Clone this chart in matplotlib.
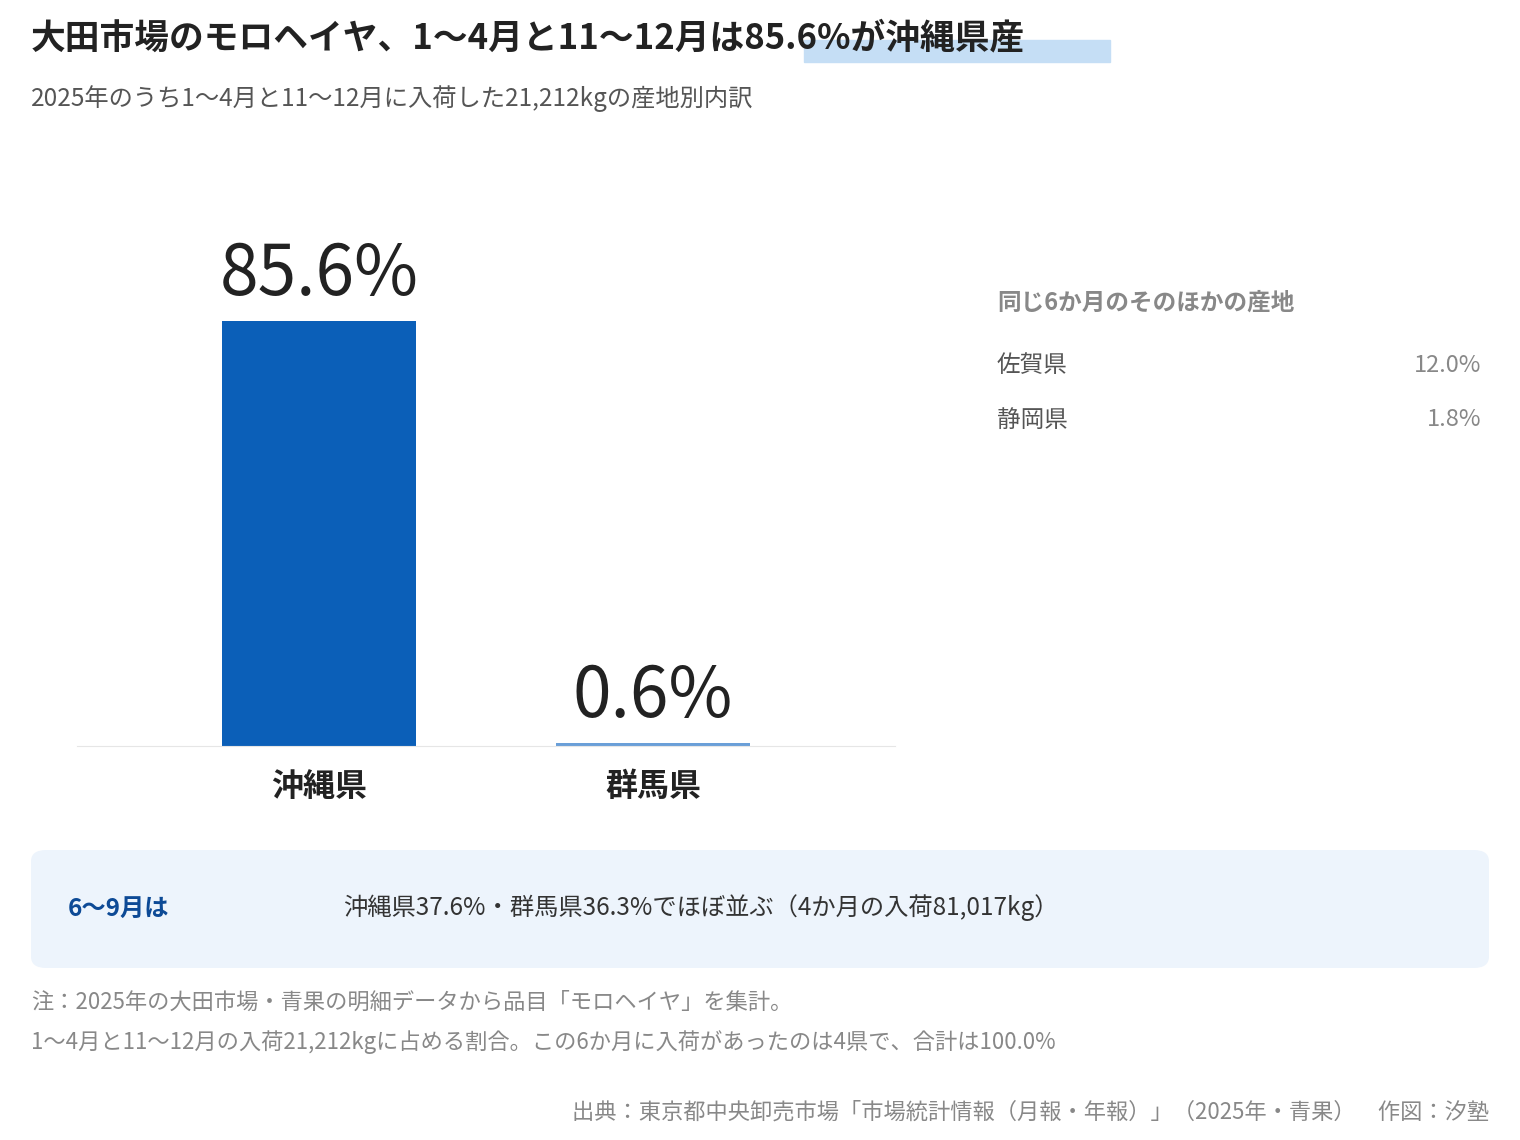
import matplotlib
matplotlib.use("Agg")
import matplotlib.pyplot as plt
from matplotlib.patches import FancyBboxPatch, Rectangle

plt.rcParams['font.family'] = ['Noto Sans CJK JP', 'DejaVu Sans']

categories = ["沖縄県", "群馬県"]
values = [85.6, 0.6]
bar_colors = ["#0b5fb8", "#6a9fd8"]
others = ["佐賀県", "静岡県"]
other_values = [12.0, 1.8]

W, H = 1520, 1140
fig = plt.figure(figsize=(15.2, 11.4), dpi=100)

def fx(x): return x / W
def fy(y): return 1 - y / H

# title highlight
fig.patches.append(Rectangle((fx(804), fy(62)), fx(1110) - fx(804), fy(40) - fy(62),
                             transform=fig.transFigure, color="#c5def5", zorder=0))
fig.text(fx(31), fy(38), "大田市場のモロヘイヤ、1〜4月と11〜12月は85.6%が沖縄県産",
         fontsize=25, fontweight="bold", color="#222222", va="center", zorder=2)
fig.text(fx(31), fy(99), "2025年のうち1〜4月と11〜12月に入荷した21,212kgの産地別内訳",
         fontsize=17.5, color="#555555", va="center")

ax = fig.add_axes([fx(77), fy(746), fx(895) - fx(77), (746 - 249.5) / H])
x = list(range(len(categories)))
ax.bar(x, values, width=0.58, color=bar_colors)
ax.set_xlim(-0.7246, 1.7246)
ax.set_ylim(0, 100)
for xi, v in zip(x, values):
    ax.text(xi, v + 2, f"{v}%", ha="center", va="bottom", fontsize=50, color="#222222")
ax.set_xticks(x)
ax.set_xticklabels(categories, fontsize=23, fontweight="bold", color="#222222")
ax.tick_params(axis="x", length=0, pad=18)
ax.set_yticks([])
for s in ["top", "left", "right"]:
    ax.spines[s].set_visible(False)
ax.spines["bottom"].set_color("#e6e6e6")
ax.patch.set_alpha(0)

fig.text(fx(997), fy(303), "同じ6か月のそのほかの産地", fontsize=17, fontweight="bold",
         color="#888888", va="center")
for i, (n, v) in enumerate(zip(others, other_values)):
    y = 365 + i * 55
    fig.text(fx(997), fy(y), n, fontsize=17, color="#555555", va="center")
    fig.text(fx(1481), fy(y), f"{v}%", fontsize=17, color="#888888", va="center", ha="right")

fig.patches.append(FancyBboxPatch((fx(31), fy(968)), fx(1489) - fx(31), fy(850) - fy(968),
                                  boxstyle="round,pad=0,rounding_size=0.01",
                                  transform=fig.transFigure, facecolor="#edf4fc",
                                  edgecolor="none", zorder=0))
fig.text(fx(68), fy(909), "6〜9月は", fontsize=17.5, fontweight="bold", color="#0d4a96", va="center")
fig.text(fx(343), fy(908), "沖縄県37.6%・群馬県36.3%でほぼ並ぶ（4か月の入荷81,017kg）",
         fontsize=17.5, color="#333333", va="center")

fig.text(fx(31), fy(1002), "注：2025年の大田市場・青果の明細データから品目「モロヘイヤ」を集計。",
         fontsize=16, color="#888888", va="center")
fig.text(fx(31), fy(1042), "1〜4月と11〜12月の入荷21,212kgに占める割合。この6か月に入荷があったのは4県で、合計は100.0%",
         fontsize=16, color="#888888", va="center")
fig.text(fx(1489), fy(1112), "出典：東京都中央卸売市場「市場統計情報（月報・年報）」（2025年・青果）　作図：汐塾",
         fontsize=16, color="#888888", va="center", ha="right")

fig.savefig("out.png", dpi=100, facecolor="white")
